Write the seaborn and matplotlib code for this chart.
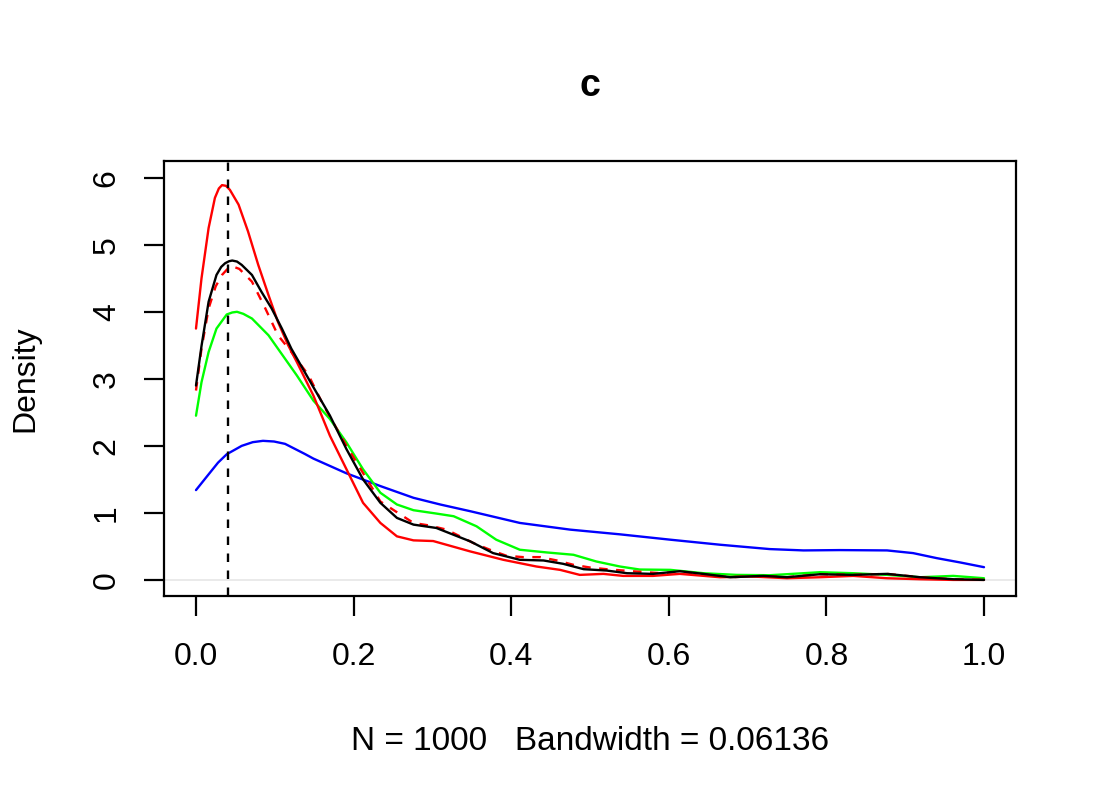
import matplotlib
matplotlib.use("Agg")
import matplotlib.pyplot as plt
import seaborn as sns

# density curves
red_x = [0.000, 0.007, 0.016, 0.024, 0.029, 0.033, 0.038, 0.043, 0.054, 0.066, 0.079, 0.092,
         0.104, 0.117, 0.128, 0.149, 0.170, 0.191, 0.212, 0.234, 0.255, 0.276, 0.301, 0.348,
         0.390, 0.432, 0.462, 0.487, 0.517, 0.542, 0.580, 0.614, 0.665, 0.707, 0.750, 0.792,
         0.834, 0.877, 0.919, 0.961, 1.000]
red_y = [3.75, 4.50, 5.25, 5.70, 5.84, 5.89, 5.88, 5.82, 5.60, 5.20, 4.70, 4.25,
         3.85, 3.50, 3.25, 2.75, 2.15, 1.65, 1.15, 0.85, 0.65, 0.59, 0.58, 0.425,
         0.30, 0.20, 0.15, 0.075, 0.09, 0.06, 0.06, 0.09, 0.04, 0.05, 0.025, 0.04,
         0.06, 0.025, 0.01, 0.0, 0.0]

black_x = [0.000, 0.007, 0.016, 0.026, 0.032, 0.037, 0.042, 0.046, 0.052, 0.058, 0.071, 0.083,
           0.096, 0.109, 0.121, 0.149, 0.170, 0.191, 0.212, 0.234, 0.255, 0.276, 0.305, 0.348,
           0.377, 0.411, 0.441, 0.466, 0.492, 0.521, 0.547, 0.580, 0.614, 0.644, 0.678, 0.720,
           0.750, 0.792, 0.834, 0.877, 0.919, 0.961, 1.000]
black_y = [2.90, 3.49, 4.15, 4.55, 4.67, 4.725, 4.755, 4.765, 4.75, 4.70, 4.55, 4.30,
           4.05, 3.75, 3.45, 2.875, 2.45, 1.95, 1.50, 1.15, 0.925, 0.825, 0.775, 0.575,
           0.40, 0.30, 0.29, 0.24, 0.16, 0.14, 0.10, 0.09, 0.13, 0.09, 0.04, 0.06,
           0.04, 0.085, 0.075, 0.09, 0.04, 0.01, 0.0]

reddash_x = [0.000, 0.007, 0.016, 0.025, 0.033, 0.040, 0.047, 0.055, 0.071, 0.088, 0.104, 0.121,
             0.143, 0.161, 0.191, 0.234, 0.276, 0.297, 0.318, 0.352, 0.373, 0.394, 0.415, 0.437,
             0.458, 0.479, 0.500, 0.521, 0.542, 0.559, 0.590, 0.614, 0.644, 0.678, 0.720, 0.750,
             0.792, 0.834, 0.877, 0.919, 0.961, 1.000]
reddash_y = [2.825, 3.45, 4.05, 4.38, 4.55, 4.64, 4.675, 4.64, 4.45, 4.05, 3.65, 3.40,
             3.05, 2.62, 2.00, 1.17, 0.85, 0.81, 0.75, 0.55, 0.45, 0.36, 0.34, 0.34,
             0.29, 0.225, 0.185, 0.16, 0.14, 0.125, 0.10, 0.12, 0.085, 0.04, 0.06, 0.04,
             0.085, 0.075, 0.09, 0.04, 0.01, 0.0]

green_x = [0.000, 0.007, 0.016, 0.026, 0.039, 0.046, 0.052, 0.060, 0.071, 0.092, 0.113, 0.128,
           0.149, 0.170, 0.191, 0.212, 0.234, 0.255, 0.276, 0.305, 0.327, 0.356, 0.381, 0.411,
           0.445, 0.479, 0.508, 0.538, 0.563, 0.602, 0.644, 0.686, 0.728, 0.771, 0.792, 0.834,
           0.877, 0.919, 0.961, 1.000]
green_y = [2.45, 2.95, 3.40, 3.75, 3.96, 3.99, 4.00, 3.97, 3.90, 3.65, 3.30, 3.05,
           2.675, 2.40, 2.05, 1.65, 1.30, 1.125, 1.04, 0.99, 0.95, 0.80, 0.60, 0.45,
           0.41, 0.375, 0.275, 0.20, 0.155, 0.15, 0.10, 0.075, 0.07, 0.10, 0.115, 0.10,
           0.075, 0.04, 0.06, 0.025]

blue_x = [0.000, 0.016, 0.028, 0.039, 0.058, 0.072, 0.085, 0.099, 0.113, 0.138, 0.149, 0.170,
          0.191, 0.234, 0.276, 0.310, 0.348, 0.411, 0.475, 0.538, 0.602, 0.665, 0.728, 0.771,
          0.817, 0.877, 0.910, 0.940, 0.970, 1.000]
blue_y = [1.34, 1.575, 1.75, 1.875, 2.00, 2.055, 2.075, 2.065, 2.03, 1.88, 1.81, 1.70,
          1.59, 1.40, 1.225, 1.125, 1.025, 0.85, 0.75, 0.68, 0.60, 0.525, 0.46, 0.44,
          0.445, 0.44, 0.40, 0.325, 0.26, 0.19]

mode_x = 0.04
x_ticks = [0.0, 0.2, 0.4, 0.6, 0.8, 1.0]
x_ticklabels = ["0.0", "0.2", "0.4", "0.6", "0.8", "1.0"]
y_ticks = [0, 1, 2, 3, 4, 5, 6]

sns.set_style("white")
plt.rcParams['font.family'] = ['Liberation Sans', 'DejaVu Sans']
plt.rcParams['text.color'] = 'black'
plt.rcParams['axes.labelcolor'] = 'black'

fig = plt.figure(figsize=(11, 8), dpi=100)
ax = fig.add_axes([164 / 1100, 1 - 596 / 800, 852 / 1100, 435 / 800])

# zero line like R's plot.density
ax.axhline(0, color='#e6e6e6', lw=1.2, zorder=1)

lw = 1.7
sns.lineplot(x=blue_x, y=blue_y, color='#0000ff', lw=lw, estimator=None, sort=False, ax=ax)
sns.lineplot(x=green_x, y=green_y, color='#00ff00', lw=lw, estimator=None, sort=False, ax=ax)
sns.lineplot(x=red_x, y=red_y, color='#ff0000', lw=lw, estimator=None, sort=False, ax=ax)
sns.lineplot(x=reddash_x, y=reddash_y, color='#ff0000', lw=lw, linestyle=(0, (3.6, 3.6)),
             estimator=None, sort=False, ax=ax)
sns.lineplot(x=black_x, y=black_y, color='black', lw=lw, estimator=None, sort=False, ax=ax)

ax.axvline(mode_x, color='black', lw=lw, linestyle=(0, (3.6, 3.6)))

ax.set_xlim(-0.0406, 1.0406)
ax.set_ylim(-0.24, 6.25)
ax.set_xticks(x_ticks)
ax.set_xticklabels(x_ticklabels)
ax.set_yticks(y_ticks)

for s in ax.spines.values():
    s.set_visible(True)
    s.set_color('black')
    s.set_linewidth(1.6)

ax.tick_params(axis='both', bottom=True, left=True, direction='out', length=14.4, width=1.6,
               color='black', labelsize=23, labelcolor='black')
ax.tick_params(axis='x', pad=19)
ax.tick_params(axis='y', pad=16)
for lab in ax.get_yticklabels():
    lab.set_rotation(90)
    lab.set_va('center')
    lab.set_ha('right')

ax.set_xlabel('N = 1000   Bandwidth = 0.06136', fontsize=24, va='baseline')
ax.xaxis.set_label_coords(0.5, -(750 - 596) / 435)
ax.set_ylabel('Density', fontsize=23, va='center')
ax.yaxis.set_label_coords((25 - 164) / 852, 0.5)
ax.set_title('c', fontsize=27, fontweight='bold', y=1 + (161 - 96) / 435, pad=0)

plt.savefig('out.png', dpi=100, facecolor='white')
